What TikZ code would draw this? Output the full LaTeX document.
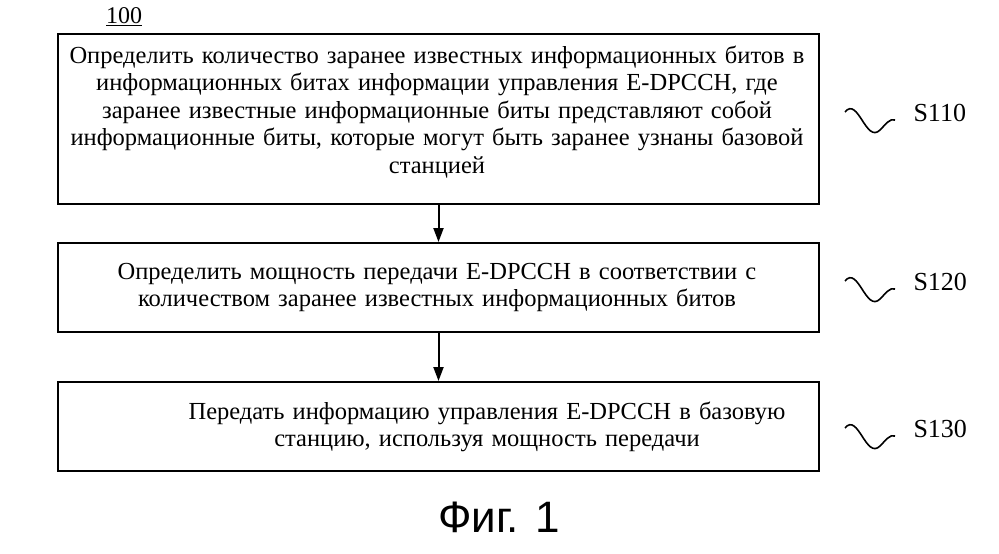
\documentclass[tikz,border=0pt]{standalone}
\usepackage{fontspec}
\setmainfont{Liberation Serif}
\newfontfamily\sansf{Liberation Sans}
\usetikzlibrary{arrows.meta}
\begin{document}
\begin{tikzpicture}[x=1pt,y=-1pt,
  box/.style={draw,line width=2pt,minimum width=761pt,anchor=north west,inner sep=0pt},
  txt/.style={font=\fontsize{24.5}{27.5}\selectfont,align=center,text width=760pt},
  txtb/.style={font=\fontsize{24.5}{27}\selectfont,align=center,text width=760pt},
  lbl/.style={font=\fontsize{26}{26}\selectfont,anchor=west},
  arr/.style={-{Triangle[length=14pt,width=10pt]},line width=2pt}]
\useasboundingbox (0,0) rectangle (999,554);
\node[box,minimum height=170pt] (b1) at (57,33) {};
\node[box,minimum height=89pt] (b2) at (57,242) {};
\node[box,minimum height=89pt] (b3) at (57,381) {};
\node[txt] (t1) at (437,112) {Определить количество заранее известных информационных битов в\\информационных битах информации управления E-DPCCH, где\\заранее известные информационные биты представляют собой\\информационные биты, которые могут быть заранее узнаны базовой\\станцией};
\node[txtb] (t2) at (437,287) {Определить мощность передачи E-DPCCH в соответствии с\\количеством заранее известных информационных битов};
\node[txtb] (t3) at (487,427) {Передать информацию управления E-DPCCH в базовую\\станцию, используя мощность передачи};
\draw[arr] (b1.south) -- (b2.north);
\draw[arr] (b2.south) -- (b3.north);
\node[font=\fontsize{24}{24}\selectfont] (n100) at (124,17) {\underline{100}};
\foreach \y/\s in {118/S110,287/S120,434/S130}{
  \coordinate (a\s) at (845,\y-6);
  \coordinate (c\s) at (895,\y+2);
  \draw[line width=1.6pt] (a\s) .. controls (858,\y-22) and (866,\y+26) .. (880,\y+12) .. controls (886,\y+6) and (890,\y) .. (c\s);
  \node[lbl] (l\s) at (910,\y-5) {\s};
}
\node[font=\sansf\fontsize{44}{44}\selectfont] (fig) at (499,517) {Фиг. 1};
\end{tikzpicture}
\end{document}
